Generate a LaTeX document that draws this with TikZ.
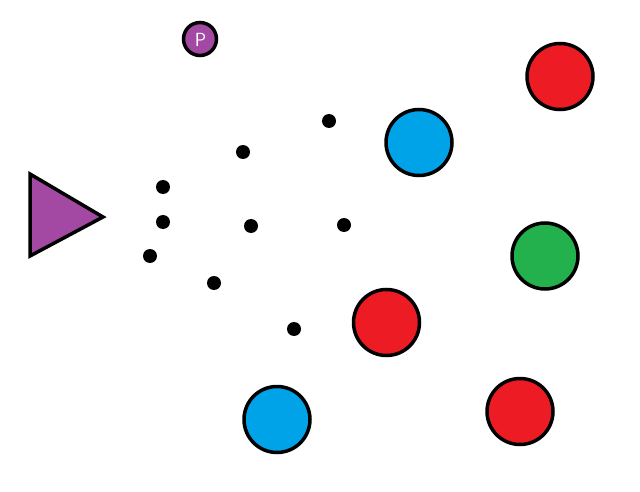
\documentclass[tikz,border=0pt]{standalone}
\usepackage{tikz}

\definecolor{paintred}{HTML}{ED1C24}
\definecolor{paintblue}{HTML}{00A2E8}
\definecolor{paintgreen}{HTML}{22B14C}
\definecolor{paintpurple}{HTML}{A349A4}

\begin{document}
\begin{tikzpicture}[x=1pt, y=-1pt, line width=3.5pt]
    \useasboundingbox (0, 0) rectangle (640, 492) ;
\filldraw[fill=paintpurple] (30, 174) -- (30, 256) -- (103, 217) -- cycle ; % Ship.0 
\filldraw[fill=paintpurple] (200, 39) circle (16.5) ; % Power.0 
\draw (200.5, 39.5) node[text=white, font=\sffamily\fontsize{19}{19}\selectfont] {P}; % Power.0 
\fill (329, 121) circle (7) ; % Shot.0 
\fill (243, 152) circle (7) ; % Shot.1 
\fill (163, 187) circle (7) ; % Shot.2 
\fill (163, 222) circle (7) ; % Shot.3 
\fill (251, 226) circle (7) ; % Shot.4 
\fill (344, 225) circle (7) ; % Shot.5 
\fill (150, 256) circle (7) ; % Shot.6 
\fill (214, 283) circle (7) ; % Shot.7 
\fill (294, 329) circle (7) ; % Shot.8 
\filldraw[fill=paintred] (560, 76.5) circle (33) ; % Enemy.0 
\filldraw[fill=paintblue] (419, 142.5) circle (33) ; % Enemy.1 
\filldraw[fill=paintgreen] (545, 256) circle (33) ; % Enemy.2 
\filldraw[fill=paintred] (386.5, 322.5) circle (33) ; % Enemy.3 
\filldraw[fill=paintblue] (277, 419.5) circle (33) ; % Enemy.4 
\filldraw[fill=paintred] (520, 411.5) circle (33) ; % Enemy.5 

    \end{tikzpicture}
\end{document}
